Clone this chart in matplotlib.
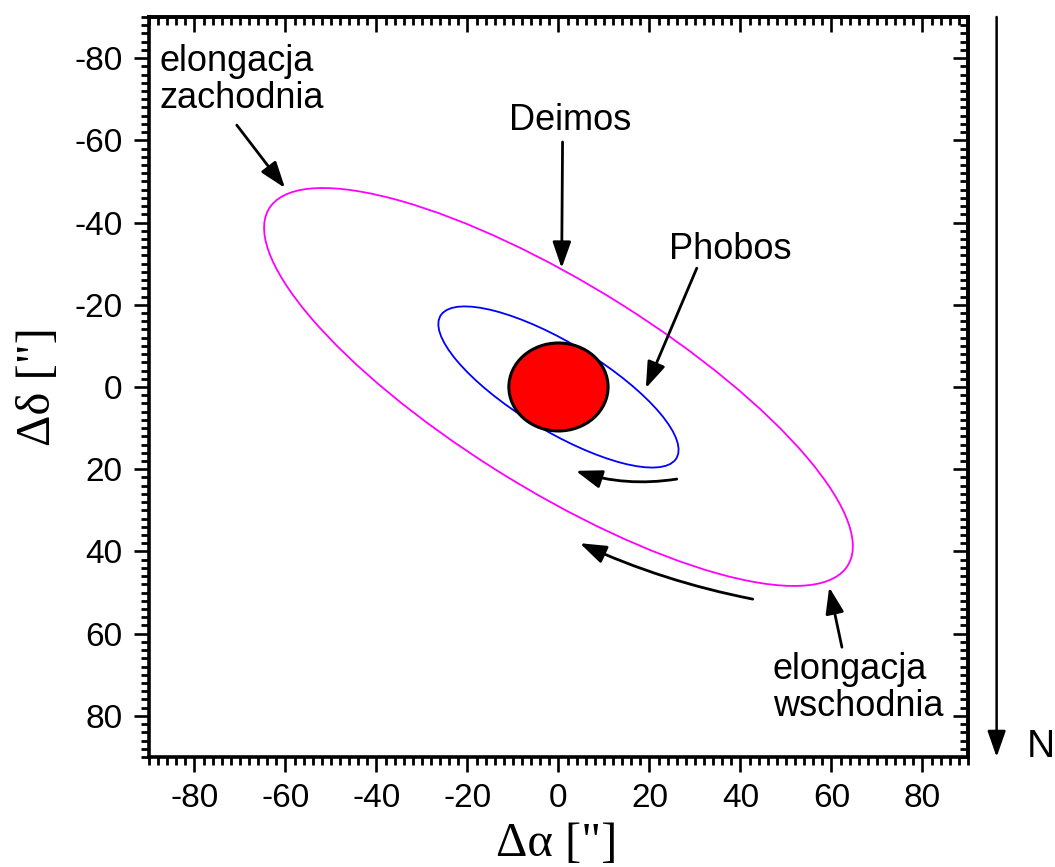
import numpy as np
import matplotlib
matplotlib.use("Agg")
import matplotlib.pyplot as plt
from matplotlib.patches import Ellipse
from matplotlib.ticker import MultipleLocator

plt.rcParams['font.family'] = ['Liberation Sans', 'DejaVu Sans']
plt.rcParams['axes.unicode_minus'] = False

# orbit shapes: x amplitude, y amplitude, cos of phase between them
moons = ['Phobos', 'Deimos']
x_amp = [26.4, 64.7]
y_amp = [19.6, 48.4]
phase_cos = [0.78, 0.80]
orbit_colors = ['#0000ff', '#ff00ff']

mars_w, mars_h = 21.8, 21.4

# straight arrows (from -> to), data coords
arrow_from = [(-70.7, -63.7), (0.9, -59.6), (30.4, -28.9), (62.3, 63.3)]
arrow_to = [(-60.1, -48.4), (0.7, -28.9), (19.2, 0.3), (59.5, 48.7)]
# curved arrows showing direction of motion
curve_from = [(26.0, 22.4), (42.7, 51.6)]
curve_to = [(3.8, 20.4), (4.7, 38.0)]
curve_rad = [-0.12, -0.06]

# labels, positioned by the baseline of their last line
labels = ['elongacja\nzachodnia', 'Deimos', 'Phobos', 'elongacja\nwschodnia']
label_pos = [(-87.6, -67.9), (2.5, -62.5), (37.7, -31.1), (47.1, 80.1)]
label_ha = ['left', 'center', 'center', 'left']

fig = plt.figure(figsize=(10.55, 8.67), dpi=100)
ax = fig.add_axes([0.1412, 0.1269, 0.7763, 0.8535])

for X, Y, c, col in zip(x_amp, y_amp, phase_cos, orbit_colors):
    S = np.array([[X * X, X * Y * c], [X * Y * c, Y * Y]])
    vals, vecs = np.linalg.eigh(S)
    ang = np.degrees(np.arctan2(vecs[1, 1], vecs[0, 1]))
    ax.add_patch(Ellipse((0, 0), 2 * np.sqrt(vals[1]), 2 * np.sqrt(vals[0]),
                         angle=ang, fill=False, ec=col, lw=1.3))

ax.add_patch(Ellipse((0, 0), mars_w, mars_h, fc='#ff0000', ec='black', lw=2.2, zorder=3))

ap = dict(arrowstyle='-|>,head_length=0.8,head_width=0.28', color='black',
          lw=2.0, mutation_scale=20, shrinkA=0, shrinkB=0)
for s, e in zip(arrow_from, arrow_to):
    ax.annotate('', xy=e, xytext=s, arrowprops=ap)
for s, e, r in zip(curve_from, curve_to, curve_rad):
    ax.annotate('', xy=e, xytext=s,
                arrowprops=dict(ap, connectionstyle='arc3,rad=%g' % r))

for t, p, ha in zip(labels, label_pos, label_ha):
    ax.text(p[0], p[1], t, fontsize=26, ha=ha, va='baseline', linespacing=1.08)

# north arrow outside the frame
ax.annotate('', xy=(1.035, 0.0), xytext=(1.035, 1.0), xycoords='axes fraction',
            arrowprops=dict(ap, lw=1.8), annotation_clip=False)
ax.text(1.072, 0.0, 'N', transform=ax.transAxes, fontsize=28, ha='left', va='baseline')

ax.set_xlim(-90, 90)
ax.set_ylim(90, -90)
for axis in (ax.xaxis, ax.yaxis):
    axis.set_major_locator(MultipleLocator(20))
    axis.set_minor_locator(MultipleLocator(2))
ax.tick_params(which='major', direction='out', length=11, width=1.9, labelsize=24, pad=8)
ax.tick_params(which='minor', direction='out', length=6, width=2.0)
for sp in ax.spines.values():
    sp.set_linewidth(2.6)

sec_x = ax.secondary_xaxis('top')
sec_y = ax.secondary_yaxis('right')
for sec in (sec_x, sec_y):
    sec_axis = sec.xaxis if sec is sec_x else sec.yaxis
    sec_axis.set_major_locator(MultipleLocator(20))
    sec_axis.set_minor_locator(MultipleLocator(2))
    sec.tick_params(which='major', direction='in', length=11, width=1.9,
                    labelleft=False, labelright=False, labeltop=False, labelbottom=False)
    sec.tick_params(which='minor', direction='in', length=6, width=2.0)
    for sp in sec.spines.values():
        sp.set_linewidth(2.6)

serif = ['Liberation Serif', 'DejaVu Serif']
ax.set_xlabel('Δα ["]', fontsize=35, family=serif)
ax.set_ylabel('Δδ ["]', fontsize=35, family=serif)
ax.xaxis.set_label_coords(0.4976, -0.088)
ax.yaxis.set_label_coords(-0.109, 0.5)

fig.savefig('out.png', dpi=100)
